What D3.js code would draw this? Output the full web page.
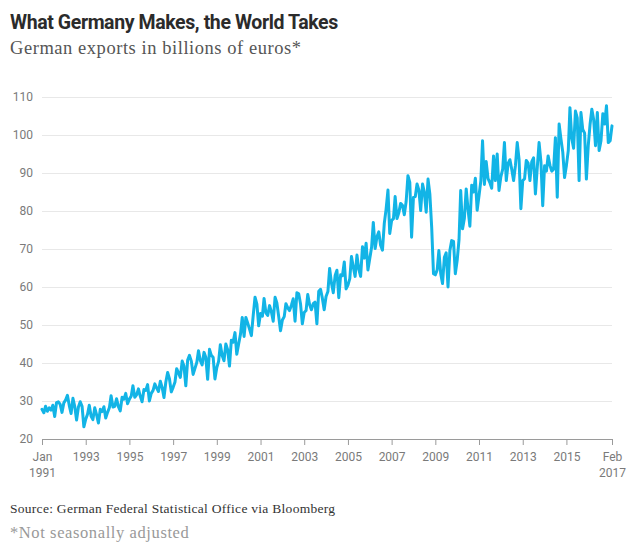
<!DOCTYPE html>
<html><head><meta charset="utf-8">
<script src="https://cdn.jsdelivr.net/npm/d3@7/dist/d3.min.js"></script>
<style>body{margin:0;background:#fff}svg{display:block}</style>
</head><body>
<svg id="chart" width="640" height="560"></svg>
<script>
const titleText = "What Germany Makes, the World Takes";
const subtitleText = "German exports in billions of euros*";
const sourceText = "Source: German Federal Statistical Office via Bloomberg";
const noteText = "*Not seasonally adjusted";

const startYear = 1991;
// Monthly German exports, billions of euros, Jan 1991 - Feb 2017
const exportValues = [
  27.8, 26.9, 28.6, 27.3, 28.2, 27.6, 28.9, 25.9, 29.6, 29.8, 29.1, 27.0,
  29.5, 30.3, 31.5, 28.8, 26.7, 30.7, 28.6, 25.0, 28.4, 29.8, 28.6, 23.2,
  25.2, 26.6, 28.9, 26.0, 25.1, 28.2, 26.4, 24.2, 27.8, 27.2, 28.5, 25.5,
  27.0, 28.3, 31.4, 28.4, 28.6, 30.6, 28.5, 27.4, 31.0, 30.5, 32.0, 29.3,
  30.5, 31.3, 34.0, 31.0, 31.6, 33.2, 31.3, 29.8, 33.0, 32.8, 34.3, 30.0,
  32.0, 32.8, 34.5, 33.4, 32.5, 35.2, 33.6, 30.9, 35.0, 37.5, 35.8, 32.4,
  33.6, 35.0, 38.5, 37.4, 36.2, 40.5, 39.2, 34.0, 40.8, 42.0, 40.5, 37.0,
  38.6, 40.2, 43.2, 40.6, 39.5, 42.8, 41.5, 35.7, 43.6, 42.0, 41.5, 35.8,
  38.8, 40.5, 44.8, 42.0, 40.6, 45.0, 43.5, 39.2, 46.0, 45.5, 48.0, 42.3,
  45.0, 47.6, 52.0, 47.0, 52.0, 50.5, 48.9, 47.2, 52.6, 57.3, 55.5, 49.8,
  53.0, 52.3, 57.0, 53.2, 52.5, 55.1, 53.5, 51.0, 57.3, 55.8, 52.2, 48.5,
  51.3, 52.2, 55.6, 54.5, 53.8, 55.2, 56.9, 51.0, 58.5, 58.2, 55.5, 50.3,
  53.3, 53.8, 58.0, 55.4, 54.0, 55.6, 56.0, 50.3, 58.9, 59.4, 57.0, 54.0,
  57.5, 58.8, 64.9, 61.0, 58.5, 63.0, 64.4, 57.2, 63.2, 63.0, 66.6, 59.5,
  60.5, 62.2, 68.0, 65.2, 62.8, 68.4, 64.7, 62.8, 70.6, 67.6, 71.5, 64.5,
  67.5, 70.5, 77.0, 70.1, 73.2, 74.5, 71.0, 69.7, 76.8, 80.5, 85.5, 74.1,
  77.5, 78.0, 83.8, 78.0, 79.5, 82.0, 81.5, 79.0, 82.5, 89.3, 87.5, 73.1,
  83.6, 83.8, 87.1, 85.5, 80.1, 87.1, 85.0, 79.7, 88.4, 84.5, 75.7, 63.5,
  63.2, 64.5, 69.6, 63.5, 60.9, 67.8, 69.0, 60.0, 69.6, 72.2, 72.0, 63.5,
  67.0, 72.5, 85.4, 75.3, 78.0, 85.8, 80.5, 76.0, 86.8, 85.0, 88.6, 80.2,
  84.0, 88.0, 98.5, 87.0, 93.0, 88.5, 87.5, 86.0, 94.5, 88.0, 95.0, 85.4,
  89.0, 91.0, 98.0, 88.0, 92.5, 93.5, 91.0, 88.0, 92.0, 98.0, 93.5, 80.6,
  88.0, 88.5, 93.3, 92.6, 88.0, 93.0, 94.0, 84.5, 91.5, 98.0, 93.0, 81.4,
  91.9, 90.5, 94.5, 92.0, 90.5, 91.0, 99.3, 83.6, 102.9, 99.0, 95.5, 88.8,
  92.0, 95.9, 107.2, 99.0, 96.5, 106.3, 104.5, 88.0, 105.9, 101.5, 100.5, 88.4,
  97.2, 102.9, 106.8, 104.0, 97.2, 105.9, 95.9, 98.5, 105.6, 102.9, 107.7, 98.0,
  98.5, 102.4
];

const yTickValues = [20, 30, 40, 50, 60, 70, 80, 90, 100, 110];
const xTickYears = [1991, 1993, 1995, 1997, 1999, 2001, 2003, 2005, 2007, 2009, 2011, 2013, 2015];
const firstLabel = ["Jan", "1991"];
const lastLabel = ["Feb", "2017"];

const svg = d3.select("#chart");
const dates = exportValues.map((v, i) => new Date(startYear, i, 1));
const x = d3.scaleTime().domain([dates[0], dates[dates.length - 1]]).range([42, 612]);
const y = d3.scaleLinear().domain([20, 110]).range([439, 97]);

const sans = "Roboto, 'Open Sans', sans-serif";
const serif = "'Liberation Serif', 'DejaVu Serif', serif";

// Titles
svg.append("text").attr("x", 10).attr("y", 29)
  .attr("font-family", sans).attr("font-weight", 700).attr("font-size", 19.5)
  .attr("letter-spacing", -0.4).attr("fill", "#2b2b2b").text(titleText);
svg.append("text").attr("x", 10).attr("y", 54)
  .attr("font-family", serif).attr("font-size", 18.5).attr("letter-spacing", 0.55)
  .attr("fill", "#555").text(subtitleText);

// Gridlines + y labels
const yAxis = d3.axisLeft(y).tickValues(yTickValues).tickSize(-(612 - 42)).tickPadding(9);
const gy = svg.append("g").attr("transform", "translate(42,0)").call(yAxis);
gy.select(".domain").remove();
gy.selectAll(".tick line").attr("stroke", "#e8e8e8").attr("stroke-width", 1);
gy.selectAll(".tick text").attr("font-family", sans).attr("font-size", 12).attr("fill", "#7a7a7a");
gy.selectAll(".tick").filter(d => d === 20).select("line").remove();

// X axis
const xTickDates = xTickYears.map(yr => new Date(yr, 0, 1)).concat([dates[dates.length - 1]]);
const xAxis = d3.axisBottom(x).tickValues(xTickDates).tickSize(6).tickSizeOuter(0).tickFormat("");
const gx = svg.append("g").attr("transform", "translate(0,439)").call(xAxis);
gx.select(".domain").attr("stroke", "#9a9a9a");
gx.selectAll(".tick line").attr("stroke", "#9a9a9a");
gx.selectAll(".tick").each(function(d, i) {
  const t = d3.select(this);
  let lines;
  if (i === 0) lines = firstLabel;
  else if (i === xTickDates.length - 1) lines = lastLabel;
  else lines = [String(d.getFullYear())];
  const txt = t.append("text").attr("y", 22).attr("text-anchor", "middle")
    .attr("font-family", sans).attr("font-size", 12).attr("fill", "#7a7a7a");
  lines.forEach((s, k) => txt.append("tspan").attr("x", 0).attr("dy", k === 0 ? 0 : 16).text(s));
});

// Line
const line = d3.line().x((d, i) => x(dates[i])).y(d => y(d));
svg.append("path").datum(exportValues).attr("d", line)
  .attr("fill", "none").attr("stroke", "#12b4e6").attr("stroke-width", 3)
  .attr("stroke-linejoin", "round").attr("stroke-linecap", "round");

// Footer
svg.append("text").attr("x", 10).attr("y", 513)
  .attr("font-family", serif).attr("font-size", 13.5).attr("letter-spacing", 0.28)
  .attr("fill", "#333").text(sourceText);
svg.append("text").attr("x", 10).attr("y", 538)
  .attr("font-family", serif).attr("font-size", 16.5).attr("letter-spacing", 0.6)
  .attr("fill", "#999").text(noteText);
</script>
</body></html>
